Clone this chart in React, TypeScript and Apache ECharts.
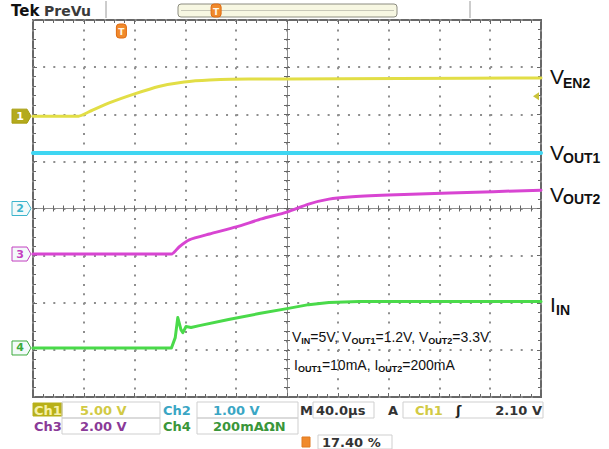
import React, { useEffect, useRef } from "react";
import * as echarts from "echarts";

const WIDTH = 609;
const HEIGHT = 449;

// Horizontal: µs from the centre graticule line, 40 µs/div across 10 divisions
const TIME_MIN = -200;
const TIME_MAX = 200;
const TIME_PER_DIV = 40;

// Ch1: V_EN2, volts
const ch1Time = [-200, -164, -156, -140, -120, -101, -81, -61, -30, 0, 88, 200];
const ch1Volts = [0, 0, 0.45, 1.4, 2.36, 3.15, 3.63, 3.84, 3.95, 3.95, 4.0, 4.05];

// Ch2: V_OUT1, volts
const ch2Time = [-200, 200];
const ch2Volts = [1.18, 1.18];

// Ch3: V_OUT2, volts
const ch3Time = [-200, -91, -85, -77, -61, -40, -20, 0, 17, 33, 49, 80, 128, 200];
const ch3Volts = [0, 0, 0.3, 0.6, 0.85, 1.15, 1.49, 1.78, 2.12, 2.33, 2.42, 2.5, 2.59, 2.71];

// Ch4: I_IN, mA
const ch4Time = [-200, -91, -88, -86, -83.5, -82, -79.5, -75.6, -69, -46, -22, 0, 17, 33, 57, 200];
const ch4MilliAmps = [0, 0, 44, 129, 78, 65, 91, 87, 95, 121, 146, 167, 184, 193, 197, 197];

// Per-channel vertical settings: units per division and ground position (div from centre)
const channelScales = [5, 1, 2, 200];
const channelPositions = [1.96, 0, -0.966, -2.96];
const channelColors = ["#e2de46", "#3fd6f2", "#d845d2", "#4ada4a"];
const markerColors = ["#a89e10", "#3cb4cc", "#c440c0", "#3caa3c"];
const readoutColors = ["#d2ca44", "#3aa6c4", "#8a3a98", "#3a963a"];

// Readout texts
const channelNames = ["Ch1", "Ch2", "Ch3", "Ch4"];
const scaleReadouts = ["5.00 V", "1.00 V", "2.00 V", "200mA\u03A9N"];
const timebaseReadout = "40.0\u00B5s";
const triggerSourceIndex = 0;
const triggerLevel = 2.1; // V on Ch1
const triggerLevelReadout = "2.10 V";
const triggerPercent = 17.4;
const triggerPercentReadout = "17.40 %";

const GRID = { left: 33, top: 20, width: 508, height: 377 };
const DIV_W = GRID.width / 10;
const DIV_H = GRID.height / 8;

const FONT_UI = "'DejaVu Sans', Verdana, sans-serif";
const FONT_LABEL = "'Liberation Sans Narrow', 'Liberation Sans', Arial, sans-serif";
const FONT_NOTE = "'Liberation Sans', Arial, sans-serif";

const traces = [
  { time: ch1Time, values: ch1Volts, smooth: 0.2, width: 3 },
  { time: ch2Time, values: ch2Volts, smooth: false, width: 4 },
  { time: ch3Time, values: ch3Volts, smooth: 0.2, width: 3 },
  { time: ch4Time, values: ch4MilliAmps, smooth: false, width: 3 },
];

const tickStyle = { color: "#666666", width: 1 };
const dotColor = "#8e8e8e";

function xAxisDef(extra: any) {
  return {
    type: "value",
    min: TIME_MIN,
    max: TIME_MAX,
    interval: TIME_PER_DIV,
    axisLabel: { show: false },
    splitLine: { show: false },
    ...extra,
  };
}

function yAxisDef(extra: any) {
  return {
    type: "value",
    min: -4,
    max: 4,
    interval: 1,
    axisLabel: { show: false },
    splitLine: { show: false },
    ...extra,
  };
}

function buildOption() {
  const xAxis = [
    xAxisDef({
      position: "bottom",
      axisLine: { show: true, onZero: true, onZeroAxisIndex: 0, lineStyle: { color: "#8c8c8c", width: 1 } },
      axisTick: { show: true, inside: false, length: 3, lineStyle: tickStyle },
      minorTick: { show: true, splitNumber: 5, length: 3, lineStyle: tickStyle },
      splitLine: {
        show: true,
        lineStyle: { color: dotColor, width: 2, type: [2, DIV_H / 5 - 2] },
      },
    }),
    xAxisDef({
      position: "bottom",
      axisLine: { show: true, onZero: true, onZeroAxisIndex: 0, lineStyle: { opacity: 0 } },
      axisTick: { show: true, inside: true, length: 3, lineStyle: tickStyle },
      minorTick: { show: true, splitNumber: 5, length: 3, lineStyle: tickStyle },
    }),
    xAxisDef({
      position: "top",
      axisLine: { show: false, onZero: false },
      axisTick: { show: true, inside: true, length: 4, lineStyle: tickStyle },
      minorTick: { show: true, splitNumber: 5, length: 3, lineStyle: tickStyle },
    }),
    xAxisDef({
      position: "bottom",
      axisLine: { show: false, onZero: false },
      axisTick: { show: true, inside: true, length: 4, lineStyle: tickStyle },
      minorTick: { show: true, splitNumber: 5, length: 3, lineStyle: tickStyle },
    }),
  ];

  const yAxis: any[] = [
    yAxisDef({
      position: "left",
      axisLine: { show: true, onZero: true, onZeroAxisIndex: 0, lineStyle: { color: "#8c8c8c", width: 1 } },
      axisTick: { show: true, inside: false, length: 3, lineStyle: tickStyle },
      minorTick: { show: true, splitNumber: 5, length: 3, lineStyle: tickStyle },
      splitLine: {
        show: true,
        lineStyle: { color: dotColor, width: 2, type: [2, DIV_W / 5 - 2] },
      },
    }),
    yAxisDef({
      position: "left",
      axisLine: { show: true, onZero: true, onZeroAxisIndex: 0, lineStyle: { opacity: 0 } },
      axisTick: { show: true, inside: true, length: 3, lineStyle: tickStyle },
      minorTick: { show: true, splitNumber: 5, length: 3, lineStyle: tickStyle },
    }),
    yAxisDef({
      position: "left",
      axisLine: { show: false, onZero: false },
      axisTick: { show: true, inside: true, length: 4, lineStyle: tickStyle },
      minorTick: { show: true, splitNumber: 5, length: 3, lineStyle: tickStyle },
    }),
    yAxisDef({
      position: "right",
      axisLine: { show: false, onZero: false },
      axisTick: { show: true, inside: true, length: 4, lineStyle: tickStyle },
      minorTick: { show: true, splitNumber: 5, length: 3, lineStyle: tickStyle },
    }),
  ];

  // One hidden vertical scale per channel: volts (or mA) per division and ground offset
  channelScales.forEach((scale, i) => {
    yAxis.push({
      type: "value",
      show: false,
      position: "left",
      min: (-4 - channelPositions[i]) * scale,
      max: (4 - channelPositions[i]) * scale,
      axisLine: { onZero: false },
    });
  });

  const series = traces.map((tr, i) => ({
    type: "line",
    name: channelNames[i],
    xAxisIndex: 0,
    yAxisIndex: 4 + i,
    data: tr.time.map((t, k) => [t, tr.values[k]]),
    showSymbol: false,
    symbol: "none",
    smooth: tr.smooth,
    silent: true,
    z: 5,
    lineStyle: { color: channelColors[i], width: tr.width, cap: "round", join: "round" },
  }));

  return {
    animation: false,
    backgroundColor: "#ffffff",
    grid: {
      left: GRID.left,
      top: GRID.top,
      width: GRID.width,
      height: GRID.height,
      show: true,
      borderColor: "#686868",
      borderWidth: 2,
      backgroundColor: "#ffffff",
    },
    xAxis,
    yAxis,
    series,
  };
}

function text(
  x: number,
  y: number,
  content: string,
  fill: string,
  size = 13,
  weight: string = "bold",
  family = FONT_UI,
  align = "left",
  z = 20
) {
  return {
    type: "text",
    x,
    y,
    z,
    silent: true,
    style: {
      text: content,
      fill,
      fontSize: size,
      fontWeight: weight,
      fontFamily: family,
      align,
      verticalAlign: "middle",
    },
  };
}

function box(x: number, y: number, w: number, h: number, fill = "none", stroke = "#cfcfcf") {
  return {
    type: "rect",
    z: 15,
    silent: true,
    shape: { x, y, width: w, height: h },
    style: { fill, stroke, lineWidth: 1 },
  };
}

function triggerMark(x: number, top: number, h: number) {
  return [
    {
      type: "rect",
      z: 22,
      silent: true,
      shape: { x: x - 5, y: top, width: 10, height: h, r: 3 },
      style: { fill: "#f08a2c", stroke: "#e06a10", lineWidth: 1 },
    },
    text(x, top + h / 2 + 1, "T", "#fff6e6", 9, "bold", FONT_UI, "center", 24),
  ];
}

function buildGraphics(chart: any) {
  const items: any[] = [];

  // Header
  items.push(text(11, 11, "Tek", "#111111", 15, "bold", FONT_UI));
  items.push(text(44, 11, "PreVu", "#3a3a3a", 14, "bold", FONT_UI));
  items.push({ type: "line", z: 15, silent: true, shape: { x1: 106, y1: 1, x2: 106, y2: 18 }, style: { stroke: "#9a9a9a", lineWidth: 1 } });
  items.push({ type: "line", z: 15, silent: true, shape: { x1: 470, y1: 1, x2: 470, y2: 18 }, style: { stroke: "#9a9a9a", lineWidth: 1 } });
  items.push({
    type: "rect",
    z: 15,
    silent: true,
    shape: { x: 178, y: 4, width: 219, height: 13, r: 3 },
    style: { fill: "#f7f7e2", stroke: "#8c8c80", lineWidth: 1 },
  });
  items.push({ type: "line", z: 16, silent: true, shape: { x1: 181, y1: 10.5, x2: 394, y2: 10.5 }, style: { stroke: "#c8c8b8", lineWidth: 1 } });
  const recordX = 178 + (triggerPercent / 100) * 219;
  items.push(...triggerMark(recordX, 4, 13));

  // Trigger position on the graticule
  const trigTime = TIME_MIN + (triggerPercent / 100) * (TIME_MAX - TIME_MIN);
  const trigX = chart.convertToPixel({ xAxisIndex: 0 }, trigTime) as number;
  items.push(...triggerMark(trigX, 24, 14));

  // Trigger level arrow on the right edge
  const lvlY = chart.convertToPixel({ yAxisIndex: 4 + triggerSourceIndex }, triggerLevel) as number;
  items.push({
    type: "polygon",
    z: 20,
    silent: true,
    shape: { points: [[533, lvlY], [539, lvlY - 4], [539, lvlY + 4]] },
    style: { fill: "#c9c23a" },
  });

  // Channel ground markers
  channelPositions.forEach((pos, i) => {
    const y = chart.convertToPixel({ yAxisIndex: 0 }, pos) as number;
    const filled = i === 0;
    items.push({
      type: "polygon",
      z: 18,
      silent: true,
      shape: { points: [[12, y - 7], [27, y - 7], [31, y], [27, y + 7], [12, y + 7]] },
      style: { fill: filled ? "#b4aa1c" : "#f3fafa", stroke: markerColors[i], lineWidth: 1 },
    });
    items.push(text(20, y, String(i + 1), filled ? "#ffffff" : markerColors[i], 11, "bold", FONT_UI, "center"));
  });

  // Trace names
  const names = [
    { main: "V", sub: "EN2", y: 76, subY: 82.5 },
    { main: "V", sub: "OUT1", y: 152.5, subY: 157.5 },
    { main: "V", sub: "OUT2", y: 194, subY: 198.5 },
    { main: "I", sub: "IN", y: 304, subY: 309.5 },
  ];
  names.forEach((n) => {
    items.push(text(550, n.y, n.main, "#111111", 21, "normal", FONT_LABEL));
    items.push(text(n.main === "I" ? 556 : 563, n.subY, n.sub, "#111111", 14, "bold", FONT_LABEL));
  });

  // Test conditions
  const subStyle = { fontSize: 9, fontWeight: "bold", fontFamily: FONT_NOTE, fill: "#111111", lineHeight: 8, verticalAlign: "bottom" };
  items.push({
    type: "text",
    x: 292,
    y: 337,
    z: 20,
    silent: true,
    style: {
      text: "V{s|IN}=5V, V{s|OUT1}=1.2V, V{s|OUT2}=3.3V",
      fontSize: 14,
      fontFamily: FONT_NOTE,
      fill: "#111111",
      lineHeight: 16,
      verticalAlign: "middle",
      rich: { s: subStyle },
    },
  });
  items.push({
    type: "text",
    x: 294,
    y: 365,
    z: 20,
    silent: true,
    style: {
      text: "I{s|OUT1}=10mA, I{s|OUT2}=200mA",
      fontSize: 14,
      fontFamily: FONT_NOTE,
      fill: "#111111",
      lineHeight: 16,
      verticalAlign: "middle",
      rich: { s: subStyle },
    },
  });

  // Readout rows
  const r1 = 410;
  const r2 = 426;
  const r3 = 442;
  items.push(box(33, 403, 29, 13, "#b8b018", "#b8b018"));
  items.push(box(62, 402, 98, 16));
  items.push(box(197, 402, 101, 16));
  items.push(box(313, 402, 61, 16));
  items.push(box(403, 402, 140, 16));
  items.push(box(62, 418, 98, 16));
  items.push(box(197, 418, 101, 16));
  items.push(box(318, 435, 74, 14));

  items.push(text(34, r1, channelNames[0], "#f6f0a8", 13));
  items.push(text(80, r1, scaleReadouts[0], readoutColors[0], 13));
  items.push(text(163, r1, channelNames[1], readoutColors[1], 13));
  items.push(text(213, r1, scaleReadouts[1], readoutColors[1], 13));
  items.push(text(34, r2, channelNames[2], readoutColors[2], 13));
  items.push(text(80, r2, scaleReadouts[2], readoutColors[2], 13));
  items.push(text(163, r2, channelNames[3], readoutColors[3], 13));
  items.push(text(213, r2, scaleReadouts[3], readoutColors[3], 13));

  items.push(text(300, r1, "M", "#333333", 13));
  items.push(text(316, r1, timebaseReadout, "#333333", 13));
  items.push(text(388, r1, "A", "#333333", 13));
  items.push(text(415, r1, channelNames[triggerSourceIndex], readoutColors[triggerSourceIndex], 13));
  items.push(text(456, r1, "\u0283", "#222222", 13));
  items.push(text(542, r1, triggerLevelReadout, "#333333", 13, "bold", FONT_UI, "right"));

  items.push(box(302, 437, 8, 10, "#f08a2c", "#e07a20"));
  items.push(text(322, r3, triggerPercentReadout, "#333333", 13));

  return items;
}

export default function App() {
  const ref = useRef<HTMLDivElement>(null);

  useEffect(() => {
    const el = ref.current;
    if (!el) return;
    const chart = echarts.init(el, null, { renderer: "svg", width: WIDTH, height: HEIGHT });
    chart.setOption(buildOption() as any);
    chart.setOption({ graphic: { elements: buildGraphics(chart) } } as any);
    return () => chart.dispose();
  }, []);

  return (
    <div
      ref={ref}
      style={{ position: "fixed", left: 0, top: 0, width: WIDTH, height: HEIGHT, background: "#ffffff" }}
    />
  );
}
